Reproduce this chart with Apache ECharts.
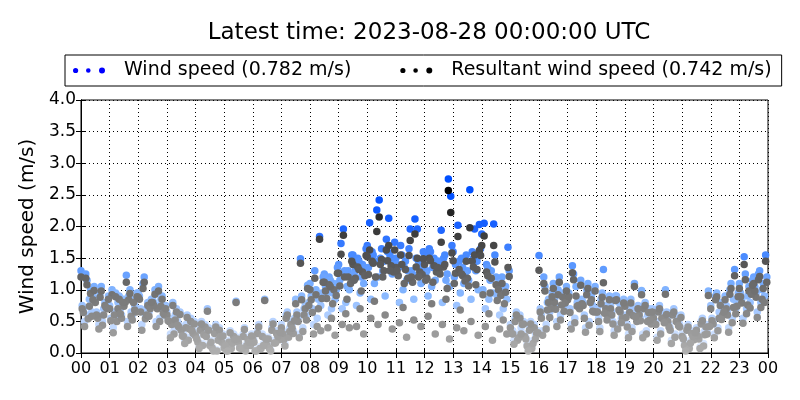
<!DOCTYPE html>
<html>
<head>
<meta charset="utf-8">
<script src="https://cdn.jsdelivr.net/npm/echarts@6/dist/echarts.min.js"></script>
<style>html,body{margin:0;padding:0;background:#fff}#c{width:800px;height:400px}</style>
</head>
<body>
<div id="c"></div>
<script>
// Time offsets (minutes) of each day's half-hourly samples
const dayOffsetMin = [0, 5, 10, 15, 20, 25, 2.5, 7.5, 12.5, 17.5, 22.5, 27.5];
const hourLabels = ['00','01','02','03','04','05','06','07','08','09','10','11','12','13','14','15','16','17','18','19','20','21','22','23','00'];

// Wind speed (m/s), half-hourly, per day
const windDay0 = [1.30,0.85,0.75,0.80,0.95,0.85,0.65,0.40, 0.30,0.15,0.10,0.20,0.25,0.15,0.45,0.85, 1.10,1.25,1.40,1.55,1.70,1.65,1.50,1.96, 1.55,1.45,1.60,1.30,1.88,1.20,0.45,0.30, 1.54,1.10,0.90,0.85,0.70,0.75,0.80,0.65, 0.60,0.55,0.30,0.40,0.75,0.90,1.10,1.20];
const windDay1 = [0.70,0.60,1.00,1.23,0.70,1.00,0.55,0.30, 0.20,0.10,0.05,0.10,0.05,0.10,0.25,0.55, 0.70,0.95,1.73,1.30,2.06,1.45,1.35,1.25, 1.30,1.94,1.40,2.58,2.05,1.10,0.35,0.15, 0.60,0.75,0.70,0.60,0.55,0.50,0.45,0.99, 0.50,0.40,0.15,0.25,0.50,0.65,0.85,0.95];
const windDay2 = [1.25,0.95,0.65,0.90,1.10,0.75,0.50,0.45, 0.40,0.35,0.20,0.30,0.35,0.40,0.60,1.49, 1.30,1.20,1.96,1.50,1.60,1.80,1.70,2.12, 1.65,1.50,2.02,1.60,1.40,1.00,0.55,0.40, 1.20,1.00,1.38,1.00,0.85,0.90,0.70,0.75, 0.70,0.65,0.40,0.50,0.90,1.00,1.52,1.25];
const windDay3 = [0.60,0.50,0.55,0.65,0.60,0.55,0.35,0.25, 0.15,0.05,0.10,0.05,0.10,0.20,0.30,0.40, 0.55,0.70,0.80,0.95,1.10,2.13,1.00,1.96, 1.05,1.15,0.95,1.96,0.85,0.70,0.25,0.10, 0.45,0.60,0.55,0.50,1.32,0.45,0.40,0.35, 0.35,0.30,0.10,0.15,0.40,0.55,0.70,0.80];
const windDay4 = [1.00,0.80,0.90,0.85,0.80,0.90,0.70,0.55, 0.45,0.40,0.30,0.25,0.30,0.35,0.50,0.75, 1.84,1.10,1.30,1.40,2.26,1.50,1.45,1.40, 1.50,2.75,1.35,1.45,1.30,1.05,0.60,0.45, 0.85,0.95,0.80,0.90,0.75,0.70,1.10,0.70, 0.60,0.55,0.35,0.45,0.80,1.32,1.05,1.10];
const windDay5 = [0.90,0.75,0.60,0.70,0.75,0.65,0.45,0.35, 0.70,0.20,0.82,0.15,0.85,0.25,0.35,1.07, 0.95,1.00,1.20,1.35,2.42,1.40,1.30,1.35, 1.40,2.48,1.25,2.03,2.04,1.67,0.50,0.35, 0.75,0.85,0.75,0.70,0.65,0.60,0.55,0.50, 1.00,0.45,0.25,0.98,0.65,0.80,1.00,1.55];
const windDay6 = [0.75,0.65,0.55,0.85,0.90,0.80,0.55,0.30, 0.25,0.20,0.15,0.10,0.20,0.25,0.35,0.65, 0.90,1.05,1.15,1.25,1.35,1.30,1.40,1.30, 1.25,1.35,1.20,1.15,1.00,0.90,0.35,0.25, 0.70,0.85,0.95,0.80,0.70,0.65,0.60,0.55, 0.50,0.45,0.25,0.30,0.55,0.75,0.95,1.05];
const windDay7 = [0.50,0.45,0.40,0.50,0.45,0.50,0.30,0.20, 0.10,0.05,0.05,0.10,0.05,0.05,0.15,0.30, 0.45,0.60,0.70,0.75,0.85,0.90,0.80,0.85, 0.90,0.80,0.75,0.85,0.70,0.60,0.20,0.05, 0.35,0.50,0.45,0.40,0.40,0.35,0.30,0.30, 0.25,0.20,0.05,0.10,0.30,0.40,0.55,0.65];
const windDay8 = [1.15,1.05,0.95,1.00,1.20,1.05,0.80,0.60, 0.50,0.45,0.35,0.40,0.45,0.50,0.65,0.90, 1.00,1.15,1.30,1.45,1.55,1.60,1.55,1.50, 1.60,1.55,1.45,1.50,1.35,1.20,0.65,0.50, 1.05,1.20,1.25,1.10,0.95,0.90,0.85,0.80, 0.75,0.70,0.45,0.55,0.95,1.10,1.25,1.30];
const windDay9 = [0.85,0.70,0.80,0.60,0.70,0.85,0.60,0.45, 0.35,0.25,0.20,0.15,0.10,0.20,0.40,0.70, 0.85,0.95,1.05,1.20,1.45,1.55,1.35,1.45, 1.35,1.25,1.50,1.30,1.15,0.95,0.30,0.20, 0.80,0.90,1.05,0.95,0.75,0.80,0.70,0.60, 0.65,0.60,0.20,0.35,0.65,0.85,0.90,1.00];
const windDay10 = [0.65,0.80,0.70,0.75,0.65,0.70,0.50,0.40, 0.30,0.30,0.25,0.20,0.15,0.30,0.45,0.60, 0.75,0.85,1.00,1.10,1.20,1.25,1.15,1.10, 1.15,1.05,1.10,1.00,0.95,0.85,0.40,0.30, 0.65,0.75,0.85,0.75,0.60,0.55,0.65,0.60, 0.55,0.50,0.30,0.35,0.60,0.70,0.80,0.90];
const windDay11 = [1.05,0.90,0.85,0.95,0.85,0.75,0.65,0.50, 0.40,0.30,0.25,0.30,0.25,0.35,0.55,0.80, 1.20,1.35,1.55,1.65,1.50,1.75,1.65,1.60, 1.45,1.70,1.55,1.65,1.55,1.30,0.50,0.35, 0.95,1.05,1.15,1.05,0.90,0.85,0.75,0.70, 0.65,0.60,0.35,0.45,0.70,0.95,1.15,1.20];

// Resultant wind speed (m/s), half-hourly, per day
const resDay0 = [1.20,0.80,0.70,0.74,0.88,0.80,0.60,0.36, 0.27,0.12,0.08,0.17,0.22,0.12,0.40,0.78, 1.00,1.12,1.26,1.40,1.52,1.48,1.35,1.78, 1.40,1.30,1.46,1.18,1.70,1.08,0.40,0.26, 1.31,1.02,0.84,0.78,0.65,0.70,0.74,0.60, 0.55,0.50,0.26,0.36,0.70,0.84,1.02,1.10];
const resDay1 = [0.64,0.55,0.92,1.12,0.65,0.93,0.50,0.26, 0.17,0.08,0.03,0.08,0.03,0.07,0.21,0.50, 0.64,0.86,1.56,1.18,1.63,1.30,1.22,1.12, 1.18,1.75,1.26,1.98,1.85,1.00,0.30,0.11, 0.55,0.69,0.64,0.55,0.50,0.46,0.41,0.92, 0.45,0.36,0.12,0.22,0.46,0.60,0.79,0.88];
const resDay2 = [1.18,0.88,0.60,0.84,1.02,0.70,0.45,0.40, 0.36,0.31,0.17,0.26,0.31,0.36,0.55,1.42, 1.18,1.08,1.86,1.36,1.45,1.63,1.55,1.88, 1.50,1.36,1.84,1.45,1.28,0.91,0.50,0.36, 1.10,0.92,1.27,0.92,0.78,0.83,0.64,0.70, 0.65,0.60,0.36,0.46,0.84,0.93,1.40,1.16];
const resDay3 = [0.54,0.44,0.50,0.58,0.54,0.50,0.30,0.20, 0.12,0.03,0.07,0.03,0.07,0.16,0.25,0.34, 0.42,0.55,0.62,0.70,0.82,1.70,0.72,1.50, 0.78,0.85,0.68,1.55,0.62,0.52,0.20,0.07, 0.38,0.52,0.48,0.44,1.11,0.38,0.34,0.30, 0.30,0.25,0.07,0.11,0.35,0.48,0.62,0.72];
const resDay4 = [0.94,0.75,0.85,0.80,0.75,0.85,0.65,0.50, 0.41,0.36,0.26,0.21,0.26,0.31,0.45,0.70, 1.80,1.00,1.20,1.28,1.92,1.38,1.32,1.28, 1.38,2.57,1.22,1.32,1.18,0.96,0.55,0.40, 0.80,0.88,0.74,0.84,0.70,0.65,1.05,0.64, 0.55,0.50,0.31,0.41,0.75,1.22,0.98,1.02];
const resDay5 = [0.84,0.70,0.55,0.65,0.70,0.60,0.41,0.31, 0.66,0.17,0.80,0.12,0.83,0.21,0.31,1.02, 0.86,0.91,1.10,1.22,2.15,1.28,1.18,1.24, 1.28,2.22,1.14,1.62,1.70,1.35,0.45,0.31, 0.70,0.79,0.70,0.65,0.60,0.55,0.50,0.46, 0.93,0.41,0.21,0.91,0.60,0.74,0.93,1.45];
const resDay6 = [0.70,0.60,0.51,0.80,0.85,0.75,0.51,0.27, 0.22,0.17,0.12,0.08,0.17,0.22,0.31,0.60, 0.84,0.98,1.06,1.15,1.24,1.20,1.30,1.20, 1.15,1.25,1.10,1.06,0.92,0.83,0.31,0.22, 0.65,0.80,0.89,0.75,0.65,0.60,0.56,0.51, 0.46,0.41,0.22,0.27,0.51,0.70,0.89,0.98];
const resDay7 = [0.42,0.38,0.32,0.42,0.36,0.42,0.24,0.15, 0.07,0.03,0.03,0.07,0.03,0.03,0.11,0.24, 0.30,0.40,0.45,0.42,0.55,0.60,0.48,0.52, 0.58,0.45,0.40,0.50,0.42,0.38,0.14,0.03, 0.28,0.42,0.38,0.33,0.34,0.28,0.24,0.24, 0.20,0.15,0.03,0.07,0.24,0.33,0.47,0.56];
const resDay8 = [1.08,0.98,0.89,0.94,1.12,0.98,0.75,0.56, 0.46,0.41,0.32,0.37,0.41,0.46,0.60,0.84, 0.92,1.05,1.20,1.32,1.42,1.46,1.40,1.36, 1.46,1.40,1.32,1.36,1.22,1.10,0.60,0.46, 0.98,1.12,1.16,1.02,0.88,0.84,0.79,0.75, 0.70,0.65,0.41,0.51,0.89,1.02,1.16,1.21];
const resDay9 = [0.74,0.60,0.70,0.52,0.60,0.74,0.52,0.38, 0.29,0.20,0.16,0.12,0.07,0.16,0.34,0.60, 0.70,0.78,0.85,0.98,1.20,1.30,1.10,1.20, 1.12,1.02,1.25,1.08,0.95,0.78,0.24,0.15, 0.68,0.76,0.90,0.80,0.63,0.68,0.59,0.50, 0.55,0.50,0.16,0.29,0.55,0.72,0.76,0.85];
const resDay10 = [0.58,0.72,0.62,0.68,0.58,0.63,0.44,0.35, 0.26,0.26,0.21,0.17,0.12,0.26,0.39,0.52, 0.35,0.28,0.40,0.30,0.45,0.38,0.25,0.42, 0.30,0.22,0.35,0.28,0.20,0.30,0.30,0.22, 0.56,0.66,0.75,0.66,0.52,0.48,0.57,0.52, 0.48,0.43,0.26,0.30,0.53,0.62,0.71,0.80];
const resDay11 = [0.99,0.85,0.80,0.89,0.80,0.70,0.61,0.46, 0.36,0.27,0.22,0.27,0.22,0.32,0.51,0.75, 1.12,1.26,1.45,1.54,1.40,1.63,1.54,1.49, 1.35,1.58,1.45,1.54,1.44,1.21,0.46,0.32, 0.89,0.98,1.07,0.98,0.84,0.79,0.70,0.65, 0.61,0.56,0.32,0.42,0.65,0.89,1.07,1.12];

const windDays = [windDay0, windDay1, windDay2, windDay3, windDay4, windDay5, windDay6, windDay7, windDay8, windDay9, windDay10, windDay11];
const resDays = [resDay0, resDay1, resDay2, resDay3, resDay4, resDay5, resDay6, resDay7, resDay8, resDay9, resDay10, resDay11];

function toPoints(days) {
  const pts = [];
  days.forEach((vals, d) => {
    vals.forEach((v, i) => pts.push([i * 0.5 + dayOffsetMin[d] / 60, v]));
  });
  return pts;
}

const FONT = 'DejaVu Sans';
const dotsIcon = 'path://M0,3.5a2.6,2.6 0 1,0 5.2,0a2.6,2.6 0 1,0 -5.2,0M13,3.5a2.3,2.3 0 1,0 4.6,0a2.3,2.3 0 1,0 -4.6,0M26,3.5a3,3 0 1,0 6,0a3,3 0 1,0 -6,0';

const chart = echarts.init(document.getElementById('c'), null, {renderer: 'canvas'});
chart.setOption({
  animation: false,
  backgroundColor: '#fff',
  textStyle: {fontFamily: FONT},
  title: {
    text: 'Latest time: 2023-08-28 00:00:00 UTC',
    left: 424, textAlign: 'center', top: 17,
    textStyle: {fontFamily: FONT, fontSize: 23, fontWeight: 'normal', color: '#000'}
  },
  legend: {
    left: 65, top: 55,
    padding: [6, 10, 6, 8],
    borderColor: '#000', borderWidth: 1,
    itemGap: 49, itemWidth: 32, itemHeight: 7,
    textStyle: {fontFamily: FONT, fontSize: 19, color: '#000', padding: [0, 0, 0, 14]},
    data: [
      {name: 'Wind speed (0.782 m/s)', icon: dotsIcon, itemStyle: {color: '#0000ff'}},
      {name: 'Resultant wind speed (0.742 m/s)', icon: dotsIcon, itemStyle: {color: '#000000'}}
    ]
  },
  grid: {left: 81, right: 32, top: 100, bottom: 47, show: true, borderColor: '#000', borderWidth: 1, backgroundColor: 'transparent'},
  visualMap: [
    {type: 'continuous', show: false, seriesIndex: 0, dimension: 1, min: 0, max: 2.5,
     inRange: {color: ['#e6efff', '#b8d3ff', '#80b3ff', '#4d8eff', '#1a62ff', '#0050ff']}},
    {type: 'continuous', show: false, seriesIndex: 1, dimension: 1, min: 0, max: 2.6,
     inRange: {color: ['#b0b0b0', '#8e8e8e', '#6c6c6c', '#4e4e4e', '#333333', '#000000']}}
  ],
  xAxis: [{
    type: 'value', min: 0, max: 24, interval: 1,
    axisLine: {show: true, lineStyle: {color: '#000'}},
    axisTick: {show: true, inside: true, length: 5, lineStyle: {color: '#000'}},
    axisLabel: {fontFamily: FONT, fontSize: 16, color: '#000', margin: 8, formatter: v => hourLabels[v]},
    splitLine: {show: true, lineStyle: {color: '#000', type: [1, 3], width: 1}}
  }, {
    type: 'value', min: 0, max: 24, interval: 1, position: 'top',
    axisLine: {show: true, lineStyle: {color: '#000'}},
    axisTick: {show: true, inside: true, length: 5, lineStyle: {color: '#000'}},
    axisLabel: {show: false}, splitLine: {show: false}
  }],
  yAxis: [{
    type: 'value', min: 0, max: 4, interval: 0.5,
    name: 'Wind speed (m/s)', nameLocation: 'middle', nameGap: 41, nameRotate: 90,
    nameTextStyle: {fontFamily: FONT, fontSize: 20, color: '#000'},
    axisLine: {show: true, lineStyle: {color: '#000'}},
    axisTick: {show: true, inside: true, length: 5, lineStyle: {color: '#000'}},
    axisLabel: {fontFamily: FONT, fontSize: 17, color: '#000', margin: 5, formatter: v => v.toFixed(1)},
    splitLine: {show: true, lineStyle: {color: '#000', type: [1, 3], width: 1}}
  }, {
    type: 'value', min: 0, max: 4, interval: 0.5, position: 'right',
    axisLine: {show: true, lineStyle: {color: '#000'}},
    axisTick: {show: true, inside: true, length: 5, lineStyle: {color: '#000'}},
    axisLabel: {show: false}, splitLine: {show: false}
  }],
  series: [
    {name: 'Wind speed (0.782 m/s)', type: 'scatter', symbolSize: 7.5, clip: true,
     data: toPoints(windDays), itemStyle: {opacity: 1}},
    {name: 'Resultant wind speed (0.742 m/s)', type: 'scatter', symbolSize: 7.5, clip: true,
     data: toPoints(resDays), itemStyle: {opacity: 1}}
  ]
});
</script>
</body>
</html>
